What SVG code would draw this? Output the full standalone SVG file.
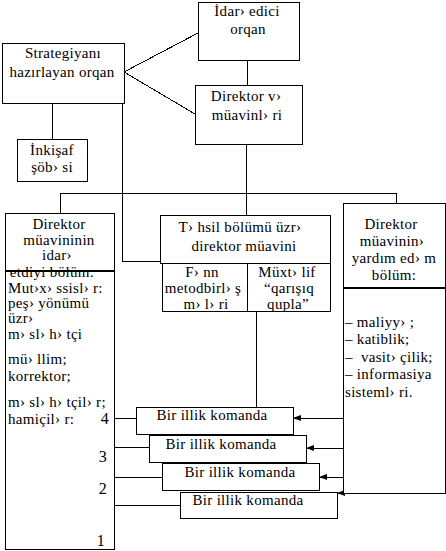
<svg xmlns="http://www.w3.org/2000/svg" width="446" height="551" viewBox="0 0 446 551">
<style>
rect{fill:#fff;stroke:#000;stroke-width:1;shape-rendering:crispEdges}
line,polyline{stroke:#000;stroke-width:1;fill:none;shape-rendering:crispEdges}
text{font-family:"Liberation Serif","Times New Roman",serif;font-size:15px;fill:#000;white-space:pre;letter-spacing:0.3px}
.c{text-anchor:middle}
.n{font-size:16px}
</style>
<defs>
<marker id="ah" viewBox="0 0 8 6" refX="8" refY="3" markerWidth="8" markerHeight="6" markerUnits="userSpaceOnUse" orient="auto">
<path d="M0,0 L8,3 L0,6 z" fill="#000"/>
</marker>
</defs>
<rect x="0" y="0" width="446" height="551" style="stroke:none"/>
<g id="connectors">
<line x1="124" y1="72" x2="198" y2="33"/>
<line x1="124" y1="72" x2="195" y2="114"/>
<line x1="247" y1="60" x2="247" y2="85"/>
<line x1="52" y1="103" x2="52" y2="139"/>
<polyline points="122,103 122,261 160,261"/>
<line x1="246" y1="144" x2="246" y2="193"/>
<line x1="60" y1="193" x2="396" y2="193"/>
<line x1="60" y1="193" x2="60" y2="213"/>
<line x1="246" y1="193" x2="246" y2="215"/>
<line x1="396" y1="193" x2="396" y2="203"/>
<line x1="256" y1="311" x2="256" y2="407"/>
<line x1="114" y1="418" x2="136" y2="418"/>
<line x1="114" y1="447" x2="149" y2="447"/>
<line x1="114" y1="477" x2="162" y2="477"/>
<line x1="114" y1="505" x2="180" y2="505"/>
<line x1="343" y1="418" x2="293" y2="418" marker-end="url(#ah)"/>
<line x1="343" y1="448" x2="306" y2="448" marker-end="url(#ah)"/>
<line x1="343" y1="477" x2="319" y2="477" marker-end="url(#ah)"/>
<line x1="343" y1="493" x2="337" y2="493" marker-end="url(#ah)"/>
</g>
<g id="idare">
<rect x="198" y="2" width="101" height="58"/>
<text class="c" x="247" y="16">İdar› edici</text>
<text class="c" x="248" y="34">orqan</text>
</g>
<g id="strategiya">
<rect x="2" y="43" width="122" height="60"/>
<text class="c" x="63" y="58">Strategiyanı</text>
<text class="c" x="62" y="77">hazırlayan orqan</text>
</g>
<g id="direktor">
<rect x="195" y="85" width="107" height="59"/>
<text class="c" x="246" y="101">Direktor v›</text>
<text class="c" x="247" y="120">müavinl› ri</text>
</g>
<g id="inkisaf">
<rect x="17" y="139" width="70" height="42"/>
<text class="c" x="52" y="155">İnkişaf</text>
<text class="c" x="52" y="172">şöb› si</text>
</g>
<g id="sol-ust">
<rect x="5" y="213" width="109" height="57"/>
<text class="c" x="59" y="229">Direktor</text>
<text class="c" x="59" y="245">müavininin</text>
<text class="c" x="57" y="260">idar›</text>
</g>
<g id="sol-alt">
<rect x="5" y="271" width="109" height="278"/>
<text class="c" x="52" y="277">etdiyi bölüm:</text>
<text x="8" y="293">Mut›x› ssisl› r:</text>
<text x="8" y="308">peş› yönümü</text>
<text x="8" y="323">üzr›</text>
<text x="8" y="339">m› sl› h› tçi</text>
<text x="8" y="364">mü› llim;</text>
<text x="8" y="381">korrektor;</text>
<text x="8" y="407">m› sl› h› tçil› r;</text>
<text x="8" y="424">hamiçil› r:</text>
<text class="c n" x="105" y="424">4</text>
<text class="c n" x="103" y="462">3</text>
<text class="c n" x="103" y="494">2</text>
<text class="c n" x="101" y="546">1</text>
</g>
<g id="tehsil">
<rect x="160" y="215" width="170" height="48"/>
<text class="c" x="240" y="232">T› hsil bölümü üzr›</text>
<text class="c" x="244" y="251">direktor müavini</text>
</g>
<g id="fenn">
<rect x="162" y="263" width="85" height="48"/>
<text class="c" x="202" y="277">F› nn</text>
<text class="c" x="203" y="293">metodbirl› ş</text>
<text class="c" x="206" y="309">m› l› ri</text>
</g>
<g id="muxtelif">
<rect x="247" y="263" width="83" height="48"/>
<text class="c" x="287" y="277">Müxt› lif</text>
<text class="c" x="289" y="293">“qarışıq</text>
<text class="c" x="288" y="309">qupla”</text>
</g>
<g id="sag-ust">
<rect x="343" y="203" width="102" height="84"/>
<text class="c" x="391" y="229">Direktor</text>
<text class="c" x="392" y="246">müavinin›</text>
<text class="c" x="394" y="263">yardım ed› m</text>
<text class="c" x="394" y="280">bölüm:</text>
</g>
<g id="sag-alt">
<rect x="343" y="288" width="102" height="205"/>
<text x="345" y="327">– maliyy› ;</text>
<text x="345" y="344">– katiblik;</text>
<text x="345" y="362">–  vasit› çilik;</text>
<text x="345" y="379">– informasiya</text>
<text x="345" y="397">sisteml› ri.</text>
</g>
<g id="komanda1">
<rect x="136" y="407" width="157" height="27"/>
<text class="c" x="212" y="420">Bir illik komanda</text>
</g>
<g id="komanda2">
<rect x="149" y="435" width="157" height="27"/>
<text class="c" x="221" y="449">Bir illik komanda</text>
</g>
<g id="komanda3">
<rect x="162" y="463" width="157" height="27"/>
<text class="c" x="240" y="477">Bir illik komanda</text>
</g>
<g id="komanda4">
<rect x="180" y="492" width="157" height="26"/>
<text class="c" x="248" y="505">Bir illik komanda</text>
</g>
</svg>
